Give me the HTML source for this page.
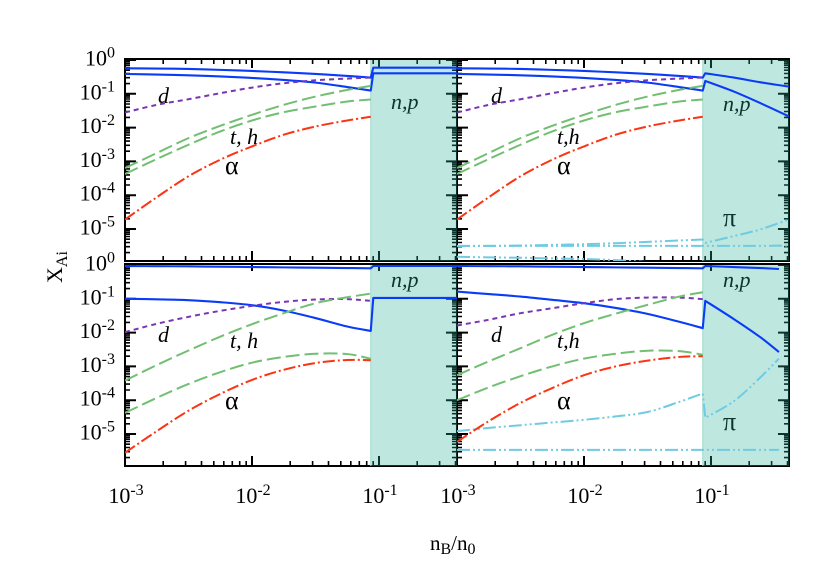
<!DOCTYPE html>
<html>
<head>
<meta charset="utf-8">
<title>Mass fractions versus density</title>
<style>
html,body{margin:0;padding:0;background:#fff;}
svg{display:block;}
text{font-family:"Liberation Serif",serif;fill:#000;}
</style>
</head>
<body>
<svg id="chart" xmlns="http://www.w3.org/2000/svg" width="830" height="583" viewBox="0 0 830 583">
<defs id="defs"></defs>
<g id="layer-tick-labels"></g>
<g id="layer-annotations"></g>
<g id="layer-axes"></g>
<g id="layer-shade"></g>
<g id="layer-curves"></g>
<text transform="translate(62,283) rotate(-90)" font-size="22">X<tspan dy="5" font-size="16">Ai</tspan></text>
<text x="430" y="550" font-size="21">n<tspan dy="4" font-size="16">B</tspan><tspan dy="-4">/n</tspan><tspan dy="4" font-size="16">0</tspan></text>
</svg>
<script>
// All series values are log10(X_Ai), at log10(nB/n0) nodes.
const lowDensityNodes = [-3, -2.75, -2.5, -2.25, -2, -1.75, -1.5, -1.25, -1.065];
const flatHighNodes = [-1.045, -0.386];
const trHighNodes = [-1.045, -0.82, -0.61, -0.386];
const brHighNodes = [-1.045, -0.82, -0.61, -0.465];
const xTickExponents = [-3, -2, -1];
const yTickExponents = [0, -1, -2, -3, -4, -5];

const topProtonLow = [-0.246, -0.252, -0.265, -0.292, -0.324, -0.365, -0.413, -0.47, -0.52];
const topNeutronLow = [-0.413, -0.43, -0.452, -0.487, -0.53, -0.59, -0.669, -0.8, -0.905];
const topDeuteronLow = [-1.554, -1.327, -1.16, -0.983, -0.816, -0.688, -0.6, -0.55, -0.52];
const topTritonLow = [-3.196, -2.753, -2.311, -1.947, -1.622, -1.327, -1.082, -0.885, -0.767];
const topHelionLow = [-3.373, -2.93, -2.507, -2.114, -1.79, -1.544, -1.377, -1.229, -1.17];
const topAlphaLow = [-4.72, -4.06, -3.44, -2.95, -2.556, -2.21, -1.967, -1.79, -1.68];

const tlProtonHigh = [-0.226, -0.226];
const tlNeutronHigh = [-0.393, -0.393];

const trProtonHigh = [-0.393, -0.52, -0.66, -0.787];
const trNeutronHigh = [-0.62, -0.934, -1.278, -1.67];
const trPionUpperLow = [-5.506, -5.5, -5.49, -5.47, -5.45, -5.42, -5.38, -5.34, -5.31];
const trPionUpperHigh = [-5.41, -5.21, -5.01, -4.72];
const trPionFlatLow = [-5.5, -5.5, -5.5, -5.5, -5.5, -5.5, -5.5, -5.5, -5.5];
const trPionFlatHigh = [-5.5, -5.5, -5.5, -5.49];
const trPionLowerLow = [-5.82, -5.84, -5.85, -5.87, -5.89, -5.92, -5.98, -6.05, -6.1];

const blProtonLow = [-0.03, -0.035, -0.04, -0.05, -0.06, -0.07, -0.08, -0.09, -0.098];
const blProtonHigh = [-0.03, -0.03];
const blNeutronLow = [-1.0, -1.015, -1.04, -1.1, -1.19, -1.35, -1.57, -1.82, -1.95];
const blNeutronHigh = [-0.973, -0.973];
const blDeuteronLow = [-1.986, -1.74, -1.534, -1.357, -1.21, -1.09, -1.02, -1.01, -1.06];
const blTritonLow = [-3.42, -2.96, -2.53, -2.12, -1.75, -1.426, -1.13, -0.954, -0.846];
const blHelionLow = [-4.376, -3.93, -3.52, -3.17, -2.89, -2.72, -2.625, -2.635, -2.773];
const blAlphaLow = [-5.555, -4.916, -4.31, -3.815, -3.4, -3.1, -2.9, -2.81, -2.82];

const brProtonLow = [-0.03, -0.035, -0.04, -0.05, -0.06, -0.07, -0.08, -0.09, -0.098];
const brProtonHigh = [-0.03, -0.06, -0.09, -0.118];
const brNeutronLow = [-0.787, -0.86, -0.934, -1.03, -1.13, -1.27, -1.445, -1.68, -1.868];
const brNeutronHigh = [-1.06, -1.6, -2.14, -2.576];
const brDeuteronLow = [-1.79, -1.62, -1.426, -1.28, -1.13, -1.01, -0.964, -0.964, -1.01];
const brTritonLow = [-3.26, -2.85, -2.46, -2.065, -1.72, -1.44, -1.18, -0.934, -0.806];
const brHelionLow = [-4.0, -3.62, -3.29, -3.0, -2.77, -2.625, -2.537, -2.547, -2.655];
const brAlphaLow = [-5.23, -4.62, -4.08, -3.64, -3.26, -3.0, -2.83, -2.72, -2.70];
const brPionUpperLow = [-4.916, -4.82, -4.74, -4.66, -4.58, -4.48, -4.35, -4.05, -3.8];
const brPionUpperHigh = [-4.52, -4.03, -3.32, -2.77];
const brPionFlatLow = [-5.47, -5.47, -5.47, -5.47, -5.47, -5.47, -5.47, -5.47, -5.47];
const brPionFlatHigh = [-5.47, -5.47, -5.47, -5.47];

const NS = 'http://www.w3.org/2000/svg';
const PX_PER_DECADE_X = 127;
const PX_PER_DECADE_Y = 33.8;
const X_MAX_LOG = -0.386;
const SHADE_START_LOG = -1.065;

const styles = {
  nucleon: {stroke: '#0a3cf8', width: 2.1, dash: ''},
  deuteron: {stroke: '#7a35b4', width: 2, dash: '5 4'},
  triton: {stroke: '#72bf73', width: 2, dash: '14 5'},
  alpha: {stroke: '#fb3412', width: 2, dash: '12 3 2 3'},
  pion: {stroke: '#6fcbe4', width: 2, dash: '13 3 2 3 2 3'}
};

const panels = [
  {key: 'top-left', left: 125, top: 59, bottom: 261, zero: 60, showYLabels: true, showXLabels: false, topMinor: true,
   series: [
    ['proton', 'nucleon', lowDensityNodes, topProtonLow, flatHighNodes, tlProtonHigh],
    ['neutron', 'nucleon', lowDensityNodes, topNeutronLow, flatHighNodes, tlNeutronHigh],
    ['deuteron', 'deuteron', lowDensityNodes, topDeuteronLow],
    ['triton', 'triton', lowDensityNodes, topTritonLow],
    ['helion', 'triton', lowDensityNodes, topHelionLow],
    ['alpha', 'alpha', lowDensityNodes, topAlphaLow]
   ],
   notes: [['d', 158, 103, true], ['t, h', 230, 144, true], ['α', 225, 174, false], ['n,p', 391, 109, true]]},
  {key: 'top-right', left: 457, top: 59, bottom: 261, zero: 60, showYLabels: false, showXLabels: false, topMinor: true,
   series: [
    ['pion-upper', 'pion', lowDensityNodes, trPionUpperLow, trHighNodes, trPionUpperHigh],
    ['pion-flat', 'pion', lowDensityNodes, trPionFlatLow, trHighNodes, trPionFlatHigh],
    ['pion-lower', 'pion', lowDensityNodes, trPionLowerLow],
    ['proton', 'nucleon', lowDensityNodes, topProtonLow, trHighNodes, trProtonHigh],
    ['neutron', 'nucleon', lowDensityNodes, topNeutronLow, trHighNodes, trNeutronHigh],
    ['deuteron', 'deuteron', lowDensityNodes, topDeuteronLow],
    ['triton', 'triton', lowDensityNodes, topTritonLow],
    ['helion', 'triton', lowDensityNodes, topHelionLow],
    ['alpha', 'alpha', lowDensityNodes, topAlphaLow]
   ],
   notes: [['d', 491, 103, true], ['t,h', 557, 144, true], ['α', 557, 174, false], ['n,p', 723, 111, true], ['π', 723, 226, false]]},
  {key: 'bottom-left', left: 125, top: 264, bottom: 466, zero: 265, showYLabels: true, showXLabels: true, topMinor: false,
   series: [
    ['proton', 'nucleon', lowDensityNodes, blProtonLow, flatHighNodes, blProtonHigh],
    ['neutron', 'nucleon', lowDensityNodes, blNeutronLow, flatHighNodes, blNeutronHigh],
    ['deuteron', 'deuteron', lowDensityNodes, blDeuteronLow],
    ['triton', 'triton', lowDensityNodes, blTritonLow],
    ['helion', 'triton', lowDensityNodes, blHelionLow],
    ['alpha', 'alpha', lowDensityNodes, blAlphaLow]
   ],
   notes: [['d', 158, 342, true], ['t, h', 230, 348, true], ['α', 225, 409, false], ['n,p', 391, 287, true]]},
  {key: 'bottom-right', left: 457, top: 264, bottom: 466, zero: 265, showYLabels: false, showXLabels: true, topMinor: false,
   series: [
    ['pion-upper', 'pion', lowDensityNodes, brPionUpperLow, brHighNodes, brPionUpperHigh],
    ['pion-flat', 'pion', lowDensityNodes, brPionFlatLow, brHighNodes, brPionFlatHigh],
    ['proton', 'nucleon', lowDensityNodes, brProtonLow, brHighNodes, brProtonHigh],
    ['neutron', 'nucleon', lowDensityNodes, brNeutronLow, brHighNodes, brNeutronHigh],
    ['deuteron', 'deuteron', lowDensityNodes, brDeuteronLow],
    ['triton', 'triton', lowDensityNodes, brTritonLow],
    ['helion', 'triton', lowDensityNodes, brHelionLow],
    ['alpha', 'alpha', lowDensityNodes, brAlphaLow]
   ],
   notes: [['d', 491, 342, true], ['t,h', 557, 348, true], ['α', 557, 409, false], ['n,p', 723, 287, true], ['π', 723, 430, false]]}
];

function xScale(panel, logN) { return panel.left + (logN + 3) * PX_PER_DECADE_X; }
function yScale(panel, logX) { return panel.zero - logX * PX_PER_DECADE_Y; }
function make(tag, attrs, parent) {
  const el = document.createElementNS(NS, tag);
  for (const k in attrs) el.setAttribute(k, attrs[k]);
  parent.appendChild(el);
  return el;
}
// Smooth one run of points with a Catmull-Rom spline, expressed as cubic Beziers.
function smoothRun(pts) {
  let d = '';
  for (let i = 0; i < pts.length - 1; i++) {
    const p0 = pts[Math.max(i - 1, 0)];
    const p1 = pts[i];
    const p2 = pts[i + 1];
    const p3 = pts[Math.min(i + 2, pts.length - 1)];
    const c1x = p1[0] + (p2[0] - p0[0]) / 6;
    const c1y = p1[1] + (p2[1] - p0[1]) / 6;
    const c2x = p2[0] - (p3[0] - p1[0]) / 6;
    const c2y = p2[1] - (p3[1] - p1[1]) / 6;
    d += 'C' + c1x.toFixed(2) + ' ' + c1y.toFixed(2) + ' ' + c2x.toFixed(2) + ' ' + c2y.toFixed(2) + ' ' + p2[0].toFixed(2) + ' ' + p2[1].toFixed(2);
  }
  return d;
}

const defs = document.getElementById('defs');
const tickLabelLayer = document.getElementById('layer-tick-labels');
const annotationLayer = document.getElementById('layer-annotations');
const axesLayer = document.getElementById('layer-axes');
const shadeLayer = document.getElementById('layer-shade');
const curveLayer = document.getElementById('layer-curves');

function powerLabel(x, y, exponent, anchor, name) {
  const t = make('text', {x: x, y: y, 'font-size': 22, 'text-anchor': anchor}, tickLabelLayer);
  
  
  t.appendChild(document.createTextNode('10'));
  const sup = make('tspan', {dy: -8, 'font-size': 16}, t);
  sup.textContent = String(exponent);
}

panels.forEach(function (panel) {
  const right = xScale(panel, X_MAX_LOG);
  const clipId = 'clip-' + panel.key;
  const clip = make('clipPath', {id: clipId}, defs);
  make('rect', {x: panel.left, y: panel.top, width: right - panel.left, height: panel.bottom - panel.top}, clip);

  // ticks
  let majorD = '';
  let minorD = '';
  for (let d = -3; d <= -1; d++) {
    for (let k = 1; k <= 9; k++) {
      const lg = d + Math.log10(k);
      if (lg > X_MAX_LOG) continue;
      const x = xScale(panel, lg).toFixed(1);
      if (k === 1) {
        majorD += 'M' + x + ' ' + panel.bottom + 'v-10M' + x + ' ' + panel.top + 'v' + (panel.topMinor ? 9 : 7);
      } else {
        minorD += 'M' + x + ' ' + panel.bottom + 'v-5';
        if (panel.topMinor) minorD += 'M' + x + ' ' + panel.top + 'v5';
      }
    }
  }
  for (let e = 0; e >= -6; e--) {
    for (let k = 1; k <= 9; k++) {
      const y = yScale(panel, e + Math.log10(k));
      if (y < panel.top || y > panel.bottom) continue;
      const ys = y.toFixed(1);
      if (k === 1) {
        majorD += 'M' + panel.left + ' ' + ys + 'h11M' + right + ' ' + ys + 'h-11';
      } else {
        minorD += 'M' + panel.left + ' ' + ys + 'h5M' + right + ' ' + ys + 'h-5';
      }
    }
  }
  const minorTicks = make('path', {d: minorD, stroke: '#000', 'stroke-width': 1.6, fill: 'none'}, axesLayer);
  
  
  const majorTicks = make('path', {d: majorD, stroke: '#000', 'stroke-width': 2, fill: 'none'}, axesLayer);
  
  
  const frame = make('rect', {x: panel.left, y: panel.top, width: right - panel.left, height: panel.bottom - panel.top, fill: 'none', stroke: '#000', 'stroke-width': 2}, axesLayer);
  
  

  // shaded region
  const sx = xScale(panel, SHADE_START_LOG);
  const shade = make('rect', {x: sx, y: panel.top + 1, width: right - sx, height: panel.bottom - panel.top - 1, fill: 'rgb(40,175,150)', 'fill-opacity': 0.3}, shadeLayer);
  
  
  const edge = make('line', {x1: sx, x2: sx, y1: panel.top + 1, y2: panel.bottom, stroke: '#9ed8cc', 'stroke-width': 1}, shadeLayer);
  
  

  // tick labels
  if (panel.showYLabels) {
    yTickExponents.forEach(function (e) {
      powerLabel(115, yScale(panel, e) + 5.5, e, 'end', 'y-tick-label');
    });
  }
  if (panel.showXLabels) {
    xTickExponents.forEach(function (e) {
      powerLabel(xScale(panel, e) + 1, 503, e, 'middle', 'x-tick-label');
    });
  }

  // annotations
  panel.notes.forEach(function (note) {
    const t = make('text', {x: note[1], y: note[2], 'font-size': note[3] ? 22 : 26, 'font-style': note[3] ? 'italic' : 'normal'}, annotationLayer);
    
    
    t.textContent = note[0];
  });

  // curves
  const group = make('g', {'clip-path': 'url(#' + clipId + ')'}, curveLayer);
  
  
  panel.series.forEach(function (s) {
    const style = styles[s[1]];
    const low = s[2].map(function (n, i) { return [xScale(panel, n), yScale(panel, s[3][i])]; });
    let d = 'M' + low[0][0].toFixed(2) + ' ' + low[0][1].toFixed(2) + smoothRun(low);
    if (s[4]) {
      const high = s[4].map(function (n, i) { return [xScale(panel, n), yScale(panel, s[5][i])]; });
      d += 'L' + high[0][0].toFixed(2) + ' ' + high[0][1].toFixed(2) + smoothRun(high);
    }
    const line = make('path', {d: d, fill: 'none', stroke: style.stroke, 'stroke-width': style.width, 'stroke-dasharray': style.dash, 'stroke-linejoin': 'round'}, group);
    
    
  });
});
</script>
</body>
</html>
